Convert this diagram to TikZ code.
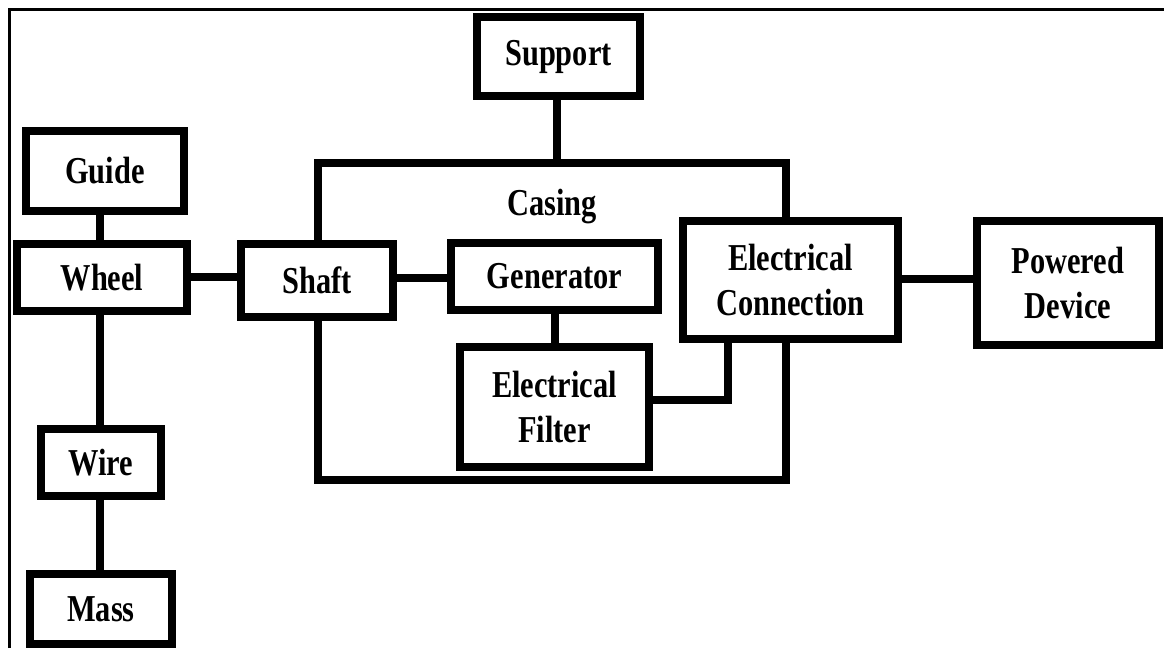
\documentclass[tikz,border=0pt]{standalone}
\usepackage{fontspec}
\newfontfamily\labfont{Liberation Serif}[FakeStretch=0.8]
\begin{document}
\begin{tikzpicture}[x=1pt,y=-1pt,
  blk/.style={draw=black,line width=8pt,fill=white,inner sep=0pt,align=center,
    font=\labfont\bfseries\fontsize{38}{45}\selectfont},
  wire/.style={draw=black,line width=8pt},
  frame/.style={draw=black,line width=3pt}]
\useasboundingbox (0,0) rectangle (1164,648);
% frame (top and left edges)
\draw[frame] (9,648) -- (9,9) -- (1164,9);
% casing
\coordinate (casNW) at (318,163);
\coordinate (casSE) at (786,480);
\draw[wire] (casNW) rectangle (casSE);
\node[font=\labfont\bfseries\fontsize{38}{45}\selectfont] (casing) at (552,207) {Casing};
% helper coordinates
\coordinate (lx) at (100,0);
\coordinate (sx) at (557,163);
\coordinate (fx) at (728,0);
% nodes
\node[blk,minimum width=158pt,minimum height=80pt] (guide) at (105,171) {Guide};
\node[blk,minimum width=170pt,minimum height=67pt] (wheel) at (102,277.5) {Wheel};
\node[blk,minimum width=120pt,minimum height=67pt] (wire) at (101,462.5) {Wire};
\node[blk,minimum width=142pt,minimum height=70pt] (mass) at (101,609) {Mass};
\node[blk,minimum width=163pt,minimum height=79pt] (support) at (558.5,56.5) {Support};
\node[blk,minimum width=152pt,minimum height=73pt] (shaft) at (317,280.5) {Shaft};
\node[blk,minimum width=207pt,minimum height=67pt] (gen) at (554.5,276.5) {Generator};
\node[blk,minimum width=189pt,minimum height=120pt] (filter) at (554.5,407) {Electrical\\Filter};
\node[blk,minimum width=215pt,minimum height=118pt] (econ) at (790.5,280) {Electrical\\Connection};
\node[blk,minimum width=182pt,minimum height=124pt] (pd) at (1068,283) {Powered\\Device};
% connectors
\draw[wire] (guide.south -| lx) -- (wheel.north -| lx);
\draw[wire] (wheel.south -| lx) -- (wire.north -| lx);
\draw[wire] (wire.south -| lx) -- (mass.north -| lx);
\draw[wire] (wheel.east |- 0,277) -- (shaft.west |- 0,277);
\draw[wire] (shaft.east |- 0,278) -- (gen.west |- 0,278);
\draw[wire] (support.south -| sx) -- (sx);
\draw[wire] (gen.south -| 555,0) -- (filter.north -| 555,0);
\draw[wire] (filter.east |- 0,400) -| (econ.south -| fx);
\draw[wire] (econ.east |- 0,279) -- (pd.west |- 0,279);
\end{tikzpicture}
\end{document}
